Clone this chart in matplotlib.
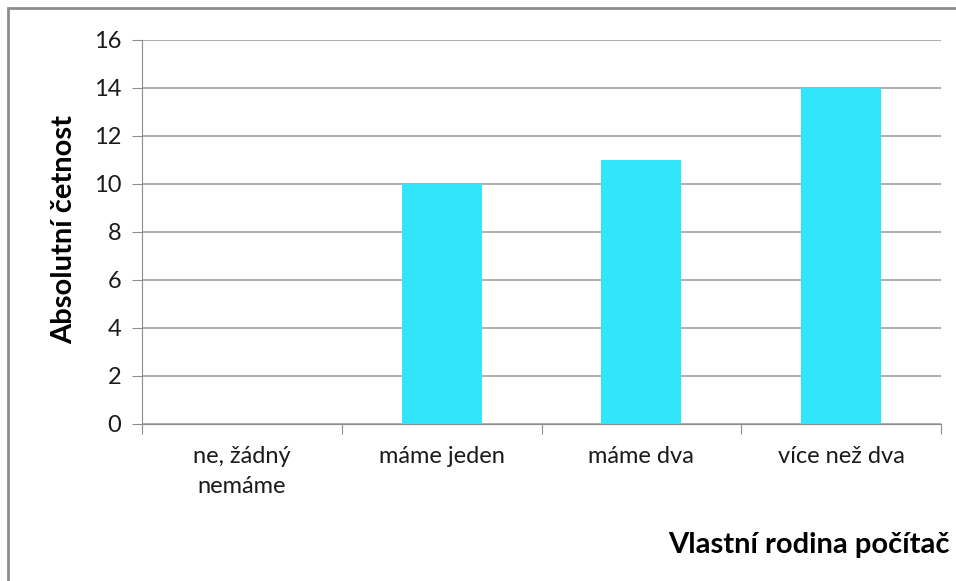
import matplotlib.pyplot as plt
from matplotlib.patches import Rectangle

categories = ["ne, žádný\nnemáme", "máme jeden", "máme dva", "více než dva"]
counts = [0, 10, 11, 14]
y_ticks = [0, 2, 4, 6, 8, 10, 12, 14, 16]

plt.rcParams['font.family'] = ['Lato', 'DejaVu Sans']

fig = plt.figure(figsize=(9.56, 5.81), dpi=100)
ax = fig.add_axes([142 / 956, 1 - 424 / 581, (941 - 142) / 956, (424 - 40) / 581])

# outer border (only top and left visible in the original)
fig.patches.append(Rectangle((8 / 956, -0.1), 1.2, 1 - 8 / 581 + 0.1, transform=fig.transFigure,
                             fill=False, edgecolor="#8c8c8c", linewidth=2))

x = range(len(categories))
ax.bar(x, counts, width=0.4, color="#33E5FA", zorder=3)

ax.set_xlim(-0.5, 3.5)
ax.set_ylim(0, 16)
ax.set_yticks(y_ticks)
ax.yaxis.grid(True, color="#a0a0a0", linewidth=1.2, zorder=0)

for side in ["top", "right"]:
    ax.spines[side].set_visible(False)
ax.spines["left"].set_color("#8c8c8c")
ax.spines["bottom"].set_color("#8c8c8c")

ax.set_xticks([-0.5, 0.5, 1.5, 2.5, 3.5])
ax.set_xticklabels([])
ax.set_xticks(list(x), minor=True)
ax.set_xticklabels(categories, minor=True, fontsize=17, color="#1a1a1a", linespacing=1.5)
ax.tick_params(axis="x", which="major", length=7, color="#8c8c8c")
ax.tick_params(axis="x", which="minor", length=0, pad=16)
ax.tick_params(axis="y", length=7, color="#8c8c8c", labelsize=17, pad=8, labelcolor="#1a1a1a")

fig.text(64 / 956, 1 - 230 / 581, "Absolutní četnost", rotation=90, fontsize=21,
         fontweight="bold", ha="center", va="center")
fig.text(950 / 956, 1 - 545 / 581, "Vlastní rodina počítač", fontsize=21,
         fontweight="bold", ha="right", va="center")

plt.savefig("out.png", dpi=100)
